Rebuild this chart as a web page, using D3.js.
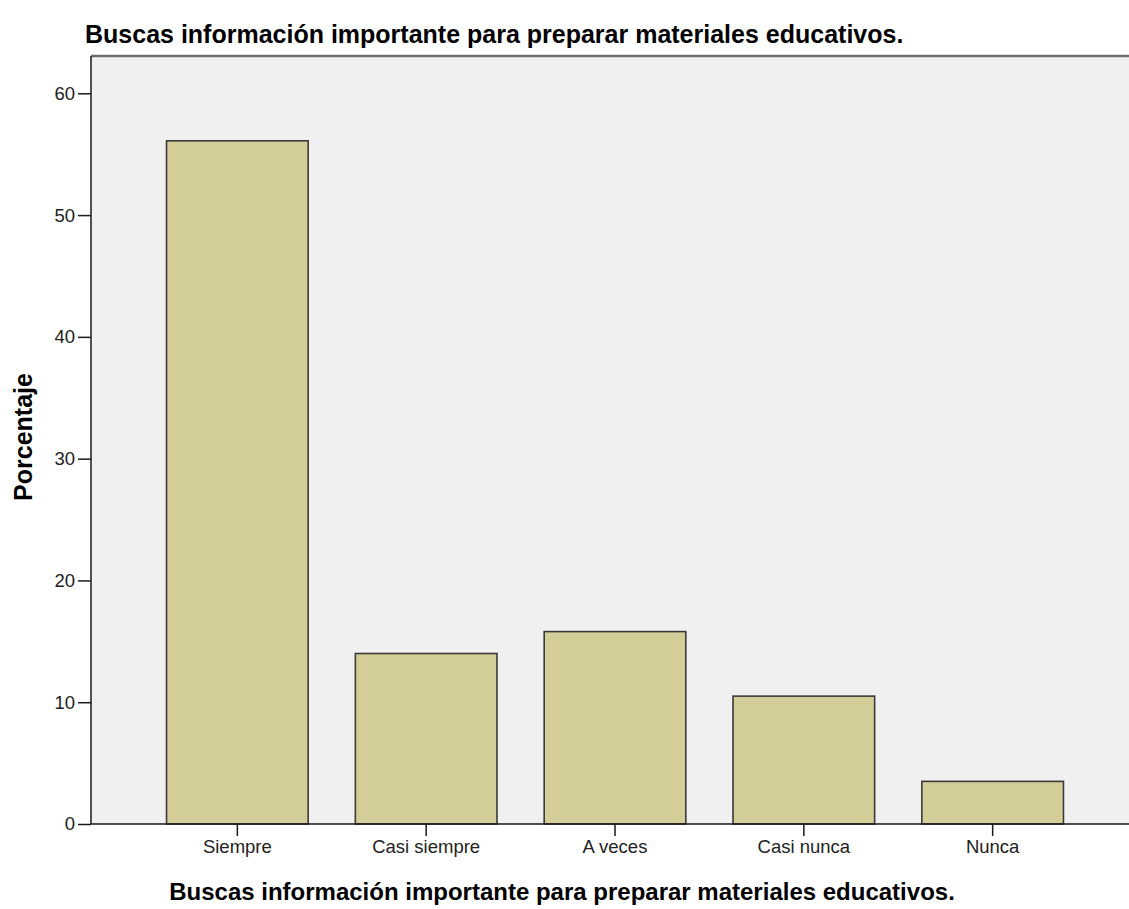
<!DOCTYPE html>
<html>
<head>
<meta charset="utf-8">
<script src="https://cdn.jsdelivr.net/npm/d3@7"></script>
<style>
  body { margin: 0; background: #ffffff; }
  svg { display: block; font-family: "Liberation Sans", Arial, sans-serif; }
</style>
</head>
<body>
<svg id="chart" width="1129" height="909"></svg>
<script>
const categorias = ["Siempre", "Casi siempre", "A veces", "Casi nunca", "Nunca"];
const porcentajes = [56.1, 14.0, 15.8, 10.5, 3.5];
const ticksY = [0, 10, 20, 30, 40, 50, 60];
const tituloTexto = "Buscas información importante para preparar materiales educativos.";
const ejeYTexto = "Porcentaje";

const svg = d3.select("#chart");
const plotLeft = 91, plotTop = 56, plotBottom = 824, plotRight = 1129;

const y = d3.scaleLinear().domain([0, 60]).range([plotBottom, 93.3]);
const x = d3.scaleBand()
    .domain(categorias)
    .range([plotLeft, 1139])
    .paddingInner(0.25)
    .paddingOuter(0.4);

// fondo del area de grafico
svg.append("rect")
    .attr("x", plotLeft)
    .attr("y", plotTop)
    .attr("width", plotRight - plotLeft)
    .attr("height", plotBottom - plotTop)
    .attr("fill", "#f0f0f0");
svg.append("line")
    .attr("x1", plotLeft).attr("x2", plotRight)
    .attr("y1", plotTop).attr("y2", plotTop)
    .attr("stroke", "#6e6e6e")
    .attr("stroke-width", 2.5);

// barras
svg.append("g")
    .selectAll("rect")
    .data(porcentajes)
    .join("rect")
    .attr("x", (d, i) => x(categorias[i]))
    .attr("y", d => y(d))
    .attr("width", x.bandwidth())
    .attr("height", d => y(0) - y(d))
    .attr("fill", "#d3ce97")
    .attr("stroke", "#3a3a3a")
    .attr("stroke-width", 1.6);

// eje Y
const ejeY = svg.append("g")
    .attr("transform", "translate(" + plotLeft + ",0)")
    .call(d3.axisLeft(y).tickValues(ticksY).tickSize(13).tickPadding(3).tickFormat(d3.format("d")));
ejeY.select(".domain").attr("stroke", "#1a1a1a").attr("stroke-width", 1.5).attr("d", "M0," + plotTop + "V" + plotBottom);
ejeY.selectAll(".tick line").attr("stroke", "#1a1a1a").attr("stroke-width", 1.5);
ejeY.selectAll(".tick text")
    .attr("fill", "#222")
    .style("font-size", "18.5px")
    .style("font-family", "'Liberation Sans', Arial, sans-serif");

// eje X
const ejeX = svg.append("g")
    .attr("transform", "translate(0," + plotBottom + ")")
    .call(d3.axisBottom(x).tickSize(12).tickPadding(4));
ejeX.select(".domain").attr("stroke", "#1a1a1a").attr("stroke-width", 1.5).attr("d", "M" + plotLeft + ",0H" + plotRight);
ejeX.selectAll(".tick line").attr("stroke", "#1a1a1a").attr("stroke-width", 1.5);
ejeX.selectAll(".tick text")
    .attr("fill", "#222")
    .style("font-size", "18.5px")
    .style("font-family", "'Liberation Sans', Arial, sans-serif");

// titulos
svg.append("text")
    .attr("x", 85)
    .attr("y", 43)
    .attr("font-size", 25)
    .attr("font-weight", "bold")
    .attr("fill", "#000")
    .text(tituloTexto);

svg.append("text")
    .attr("x", 562)
    .attr("y", 900)
    .attr("text-anchor", "middle")
    .attr("font-size", 24)
    .attr("font-weight", "bold")
    .attr("fill", "#000")
    .text(tituloTexto);

svg.append("text")
    .attr("transform", "translate(32," + 437 + ") rotate(-90)")
    .attr("text-anchor", "middle")
    .attr("font-size", 25)
    .attr("font-weight", "bold")
    .attr("fill", "#000")
    .text(ejeYTexto);
</script>
</body>
</html>
